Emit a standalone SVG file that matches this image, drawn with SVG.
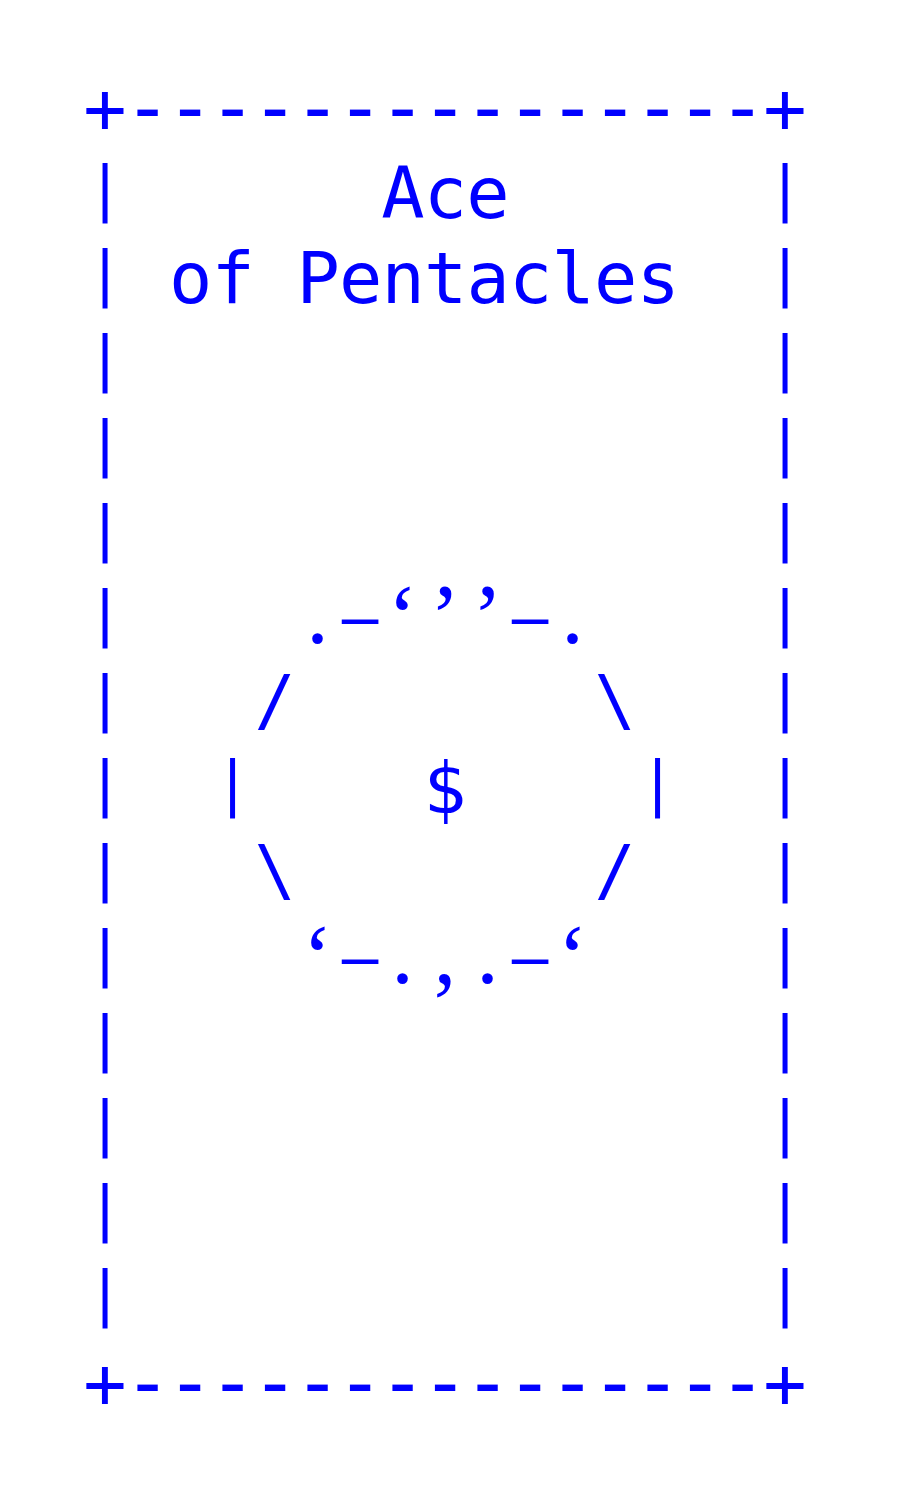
<svg xmlns="http://www.w3.org/2000/svg" width="897" height="1497" viewBox="0 0 897 1497">
<style>
text{font-family:"DejaVu Sans Mono","Liberation Mono",monospace;font-size:72px;fill:#0000ff;text-anchor:middle;white-space:pre}
text.edge{text-anchor:start}
.bar{font-size:60px}
.dash{font-size:80px;letter-spacing:-5.66px}
.sl{font-size:68px}
.sf{font-family:"Liberation Serif",serif}
.ss{font-family:"Liberation Sans",sans-serif}
.p{font-size:90px}
.q{font-size:90px}
.en{font-size:66px}
.lt{letter-spacing:-0.84px}
</style>
<rect x="0" y="0" width="897" height="1497" fill="#ffffff"/>
<g id="card-border" xml:space="preserve">
<text id="row-top" class="edge"><tspan x="83.3" y="133">+</tspan><tspan class="dash" x="123.4" y="135">---------------</tspan><tspan x="763.3" y="133">+</tspan></text>
<text id="row-3"><tspan class="bar" x="105" y="378.8">|</tspan><tspan x="445" y="388">               </tspan><tspan class="bar" x="785" y="378.8">|</tspan></text>
<text id="row-4"><tspan class="bar" x="105" y="463.8">|</tspan><tspan x="445" y="473">               </tspan><tspan class="bar" x="785" y="463.8">|</tspan></text>
<text id="row-5"><tspan class="bar" x="105" y="548.8">|</tspan><tspan x="445" y="558">               </tspan><tspan class="bar" x="785" y="548.8">|</tspan></text>
<text id="row-11"><tspan class="bar" x="105" y="1058.8">|</tspan><tspan x="445" y="1068">               </tspan><tspan class="bar" x="785" y="1058.8">|</tspan></text>
<text id="row-12"><tspan class="bar" x="105" y="1143.8">|</tspan><tspan x="445" y="1153">               </tspan><tspan class="bar" x="785" y="1143.8">|</tspan></text>
<text id="row-13"><tspan class="bar" x="105" y="1228.8">|</tspan><tspan x="445" y="1238">               </tspan><tspan class="bar" x="785" y="1228.8">|</tspan></text>
<text id="row-14"><tspan class="bar" x="105" y="1313.8">|</tspan><tspan x="445" y="1323">               </tspan><tspan class="bar" x="785" y="1313.8">|</tspan></text>
<text id="row-bottom" class="edge"><tspan x="83.3" y="1408">+</tspan><tspan class="dash" x="123.4" y="1410">---------------</tspan><tspan x="763.3" y="1408">+</tspan></text>
</g>
<g id="title" xml:space="preserve">
<text id="row-1"><tspan class="bar" x="105" y="208.8">|</tspan><tspan x="275" y="218">      </tspan><tspan class="lt" x="445" y="218">Ace</tspan><tspan x="657.5" y="218">      </tspan><tspan class="bar" x="785" y="208.8">|</tspan></text>
<text id="row-2"><tspan class="bar" x="105" y="293.8">|</tspan><tspan x="147.5" y="303"> </tspan><tspan class="lt" x="424" y="303">of Pentacles</tspan><tspan x="721" y="303">  </tspan><tspan class="bar" x="785" y="293.8">|</tspan></text>
</g>
<g id="pentacle" xml:space="preserve">
<text id="row-6"><tspan class="bar" x="105" y="633.8">|</tspan><tspan x="211" y="643">    </tspan><tspan class="sf p" x="317.5" y="643">.</tspan><tspan class="ss en" x="360" y="639">–</tspan><tspan class="sf q" x="402.5" y="647">‘</tspan><tspan class="sf q" x="445" y="647">’</tspan><tspan class="sf q" x="487.5" y="647">’</tspan><tspan class="ss en" x="530" y="639">–</tspan><tspan class="sf p" x="572.5" y="643">.</tspan><tspan x="679" y="643">    </tspan><tspan class="bar" x="785" y="633.8">|</tspan></text>
<text id="row-7"><tspan class="bar" x="105" y="718.8">|</tspan><tspan x="190" y="728">   </tspan><tspan class="sl" x="275" y="724">/</tspan><tspan x="445" y="728">       </tspan><tspan class="sl" x="615" y="724">\</tspan><tspan x="700" y="728">   </tspan><tspan class="bar" x="785" y="718.8">|</tspan></text>
<text id="row-8"><tspan class="bar" x="105" y="803.8">|</tspan><tspan x="168" y="813">  </tspan><tspan class="bar" x="232.5" y="803.8">|</tspan><tspan x="339" y="813">    </tspan><tspan x="445" y="813">$</tspan><tspan x="551" y="813">    </tspan><tspan class="bar" x="657.5" y="803.8">|</tspan><tspan x="721" y="813">  </tspan><tspan class="bar" x="785" y="803.8">|</tspan></text>
<text id="row-9"><tspan class="bar" x="105" y="888.8">|</tspan><tspan x="190" y="898">   </tspan><tspan class="sl" x="275" y="894">\</tspan><tspan x="445" y="898">       </tspan><tspan class="sl" x="615" y="894">/</tspan><tspan x="700" y="898">   </tspan><tspan class="bar" x="785" y="888.8">|</tspan></text>
<text id="row-10"><tspan class="bar" x="105" y="973.8">|</tspan><tspan x="211" y="983">    </tspan><tspan class="sf q" x="317.5" y="987">‘</tspan><tspan class="ss en" x="360" y="979">–</tspan><tspan class="sf p" x="402.5" y="983">.</tspan><tspan class="sf p" x="445" y="983">,</tspan><tspan class="sf p" x="487.5" y="983">.</tspan><tspan class="ss en" x="530" y="979">–</tspan><tspan class="sf q" x="572.5" y="987">‘</tspan><tspan x="679" y="983">    </tspan><tspan class="bar" x="785" y="973.8">|</tspan></text>
</g>
</svg>
